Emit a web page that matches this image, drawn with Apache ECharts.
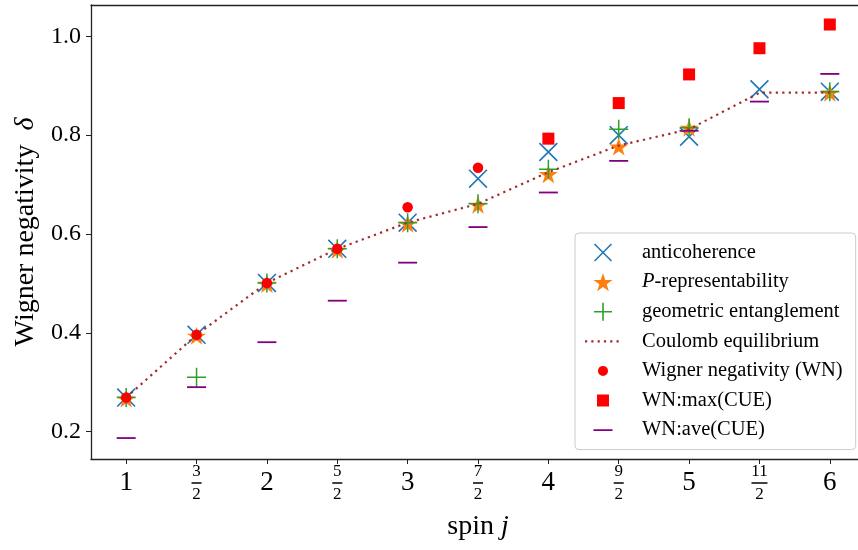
<!DOCTYPE html>
<html lang="en">
<head>
	<meta charset="UTF-8">
	<title>Wigner negativity</title>
	<style>
		body{ margin: 0; background: #fff; }
		#main{ width: 858px; height: 550px; }
	</style>
	<script src="https://cdn.jsdelivr.net/npm/echarts@6/dist/echarts.min.js"></script>
</head>
<body>
<div id="main"></div>
<script type="text/javascript">
	// values
	var spins = [1, 1.5, 2, 2.5, 3, 3.5, 4, 4.5, 5, 5.5, 6];
	var xTickLabels = ['1', '3/2', '2', '5/2', '3', '7/2', '4', '9/2', '5', '11/2', '6'];
	var yTicks = [0.2, 0.4, 0.6, 0.8, 1.0];

	var anticoherence = [0.269, 0.396, 0.501, 0.570, 0.623, 0.712, 0.766, 0.800, 0.797, 0.893, 0.888];
	var pRepresent = [0.269, 0.396, 0.501, 0.570, 0.623, 0.661, 0.723, 0.779, 0.817, null, 0.888];
	var geoEntangle = [0.269, 0.310, 0.501, 0.570, 0.623, 0.661, 0.731, 0.812, 0.815, null, 0.888];
	var coulomb = [0.269, 0.396, 0.501, 0.570, 0.623, 0.661, 0.725, 0.779, 0.812, 0.886, 0.886];
	var wignerNeg = [0.269, 0.396, 0.501, 0.570, 0.654, 0.734, null, null, null, null, null];
	var wnMaxCUE = [null, null, null, null, null, null, 0.793, 0.865, 0.923, 0.976, 1.024];
	var wnAveCUE = [0.187, 0.290, 0.381, 0.465, 0.542, 0.614, 0.684, 0.748, 0.809, 0.868, 0.924];

	function pairs(vals){
		var out = [];
		for (var i = 0; i < spins.length; i++) {
			if (vals[i] != null) out.push([spins[i], vals[i]]);
		}
		return out;
	}

	var serif = 'Liberation Serif';

	// marker shapes
	var crossPath = 'path://M0,6L6,0L100,94L94,100ZM94,0L100,6L6,100L0,94Z';
	var plusPath = 'path://M46,0L54,0L54,46L100,46L100,54L54,54L54,100L46,100L46,54L0,54L0,46L46,46Z';
	var starPath = 'path://M50,0L61.23,34.55L97.55,34.55L68.17,55.9L79.39,90.45L50,69.1L20.61,90.45L31.83,55.9L2.45,34.55L38.77,34.55Z';

	// legend icons in a 38x20 box (corner points keep the box size)
	var box = 'M0,0L0,0ZM38,20L38,20Z';
	var legCross = 'path://' + box + 'M10,2.1L11.1,1L28,17.9L26.9,19ZM26.9,1L28,2.1L11.1,19L10,17.9Z';
	var legStar = 'path://' + box + 'M19,1L21.25,7.91L28.51,7.91L22.63,12.18L24.88,19.09L19,14.82L13.12,19.09L15.37,12.18L9.49,7.91L16.75,7.91Z';
	var legPlus = 'path://' + box + 'M18.2,1L19.8,1L19.8,9.2L28,9.2L28,10.8L19.8,10.8L19.8,19L18.2,19L18.2,10.8L10,10.8L10,9.2L18.2,9.2Z';
	var legDots = 'path://' + box + 'M1,8.9L3.2,8.9L3.2,11.1L1,11.1ZM7.3,8.9L9.5,8.9L9.5,11.1L7.3,11.1ZM13.6,8.9L15.8,8.9L15.8,11.1L13.6,11.1ZM19.9,8.9L22.1,8.9L22.1,11.1L19.9,11.1ZM26.2,8.9L28.4,8.9L28.4,11.1L26.2,11.1ZM32.5,8.9L34.7,8.9L34.7,11.1L32.5,11.1Z';
	var legCircle = 'path://' + box + 'M14,10A5,5 0 1,0 24,10A5,5 0 1,0 14,10Z';
	var legSquare = 'path://' + box + 'M13,4L25,4L25,16L13,16Z';
	var legDash = 'path://' + box + 'M9.5,9.2L28.5,9.2L28.5,10.8L9.5,10.8Z';

	var myChart = echarts.init(document.getElementById('main'), null, {renderer: 'canvas'});

	var option = {
		animation: false,
		backgroundColor: '#ffffff',
		grid: {
			left: 91, right: -7, top: 5, bottom: 91,
			containLabel: false,
			outerBoundsMode: 'none'
		},
		legend: {
			orient: 'vertical',
			left: 575,
			top: 233,
			itemWidth: 38,
			itemHeight: 20,
			itemGap: 8.6,
			padding: [9, 13, 9, 9],
			backgroundColor: 'rgba(255,255,255,0.8)',
			borderColor: '#cccccc',
			borderWidth: 1,
			borderRadius: 4,
			selectedMode: false,
			textStyle: {
				fontFamily: serif, fontSize: 20.5, color: '#000',
				rich: {
					sp: {width: 15},
					it: {fontFamily: serif, fontSize: 20.5, fontStyle: 'italic', color: '#000'}
				}
			},
			formatter: function(name){
				if (name == 'P-representability') return '{sp|}{it|P}-representability';
				return '{sp|}' + name;
			},
			data: [
				{name: 'anticoherence', icon: legCross},
				{name: 'P-representability', icon: legStar},
				{name: 'geometric entanglement', icon: legPlus},
				{name: 'Coulomb equilibrium', icon: legDots},
				{name: 'Wigner negativity (WN)', icon: legCircle},
				{name: 'WN:max(CUE)', icon: legSquare},
				{name: 'WN:ave(CUE)', icon: legDash}
			]
		},
		xAxis: [{
			type: 'value',
			min: 0.75,
			max: 6.25,
			name: '{t|spin }{i|j}',
			nameLocation: 'middle',
			nameGap: 54,
			nameTextStyle: {
				rich: {
					t: {fontFamily: serif, fontSize: 28, color: '#000'},
					i: {fontFamily: serif, fontSize: 28, fontStyle: 'italic', color: '#000'}
				}
			},
			splitLine: {show: false},
			axisLine: {onZero: false, lineStyle: {color: '#222', width: 1.3}},
			axisTick: {customValues: spins, length: 5, lineStyle: {color: '#222', width: 1}},
			axisLabel: {
				customValues: spins,
				margin: 4,
				color: '#000',
				formatter: function(v){
					var idx = spins.indexOf(v);
					var s = xTickLabels[idx];
					if (s.indexOf('/') >= 0) {
						var p = s.split('/');
						var bar = p[0].length > 1 ? 'bw' : 'b';
						return '{n|' + p[0] + '}\n{' + bar + '|}\n{n|' + p[1] + '}';
					}
					return '{w|' + s + '}';
				},
				rich: {
					w: {fontFamily: serif, fontSize: 27, lineHeight: 40, color: '#000'},
					n: {fontFamily: serif, fontSize: 17, lineHeight: 17, color: '#000', align: 'center'},
					b: {backgroundColor: '#000', width: 10, height: 1.5, lineHeight: 6, align: 'center'},
					bw: {backgroundColor: '#000', width: 16, height: 1.5, lineHeight: 6, align: 'center'}
				}
			}
		}, {
			type: 'value',
			position: 'top',
			min: 0.75,
			max: 6.25,
			axisLine: {onZero: false, lineStyle: {color: '#222', width: 1.3}},
			axisTick: {show: false},
			axisLabel: {show: false},
			splitLine: {show: false}
		}],
		yAxis: {
			type: 'value',
			min: 0.1446,
			max: 1.0635,
			name: '{t|Wigner negativity  }{i|δ}',
			nameLocation: 'middle',
			nameGap: 50,
			nameTextStyle: {
				rich: {
					t: {fontFamily: serif, fontSize: 28, color: '#000'},
					i: {fontFamily: serif, fontSize: 28, fontStyle: 'italic', color: '#000'}
				}
			},
			splitLine: {show: false},
			axisLine: {show: true, onZero: false, lineStyle: {color: '#222', width: 1.3}},
			axisTick: {show: true, customValues: yTicks, length: 5, lineStyle: {color: '#222', width: 1}},
			axisLabel: {
				customValues: yTicks,
				margin: 10,
				fontFamily: serif,
				fontSize: 24,
				color: '#000',
				formatter: function(v){ return v.toFixed(1); }
			}
		},
		series: [
			{
				name: 'anticoherence', type: 'scatter',
				data: pairs(anticoherence),
				symbol: crossPath, symbolSize: 19,
				itemStyle: {color: '#1f77b4', opacity: 1}
			},
			{
				name: 'P-representability', type: 'scatter',
				data: pairs(pRepresent),
				symbol: starPath, symbolSize: [19, 18], symbolOffset: [0, 1],
				itemStyle: {color: '#ff7f0e', opacity: 1}
			},
			{
				name: 'geometric entanglement', type: 'scatter',
				data: pairs(geoEntangle),
				symbol: plusPath, symbolSize: 19,
				itemStyle: {color: '#2ca02c', opacity: 1}
			},
			{
				name: 'Coulomb equilibrium', type: 'line',
				data: pairs(coulomb),
				symbol: 'none',
				itemStyle: {color: '#a52a2a', opacity: 1},
				lineStyle: {color: '#a52a2a', width: 2.2, type: [2.2, 4.3], cap: 'butt'}
			},
			{
				name: 'Wigner negativity (WN)', type: 'scatter',
				data: pairs(wignerNeg),
				symbol: 'circle', symbolSize: 10.5,
				itemStyle: {color: '#ff0000', opacity: 1}
			},
			{
				name: 'WN:max(CUE)', type: 'scatter',
				data: pairs(wnMaxCUE),
				symbol: 'rect', symbolSize: 12,
				itemStyle: {color: '#ff0000', opacity: 1}
			},
			{
				name: 'WN:ave(CUE)', type: 'scatter',
				data: pairs(wnAveCUE),
				symbol: 'rect', symbolSize: [19, 1.8],
				itemStyle: {color: '#800080', opacity: 1}
			}
		]
	};

	myChart.setOption(option);
</script>
</body>
</html>
